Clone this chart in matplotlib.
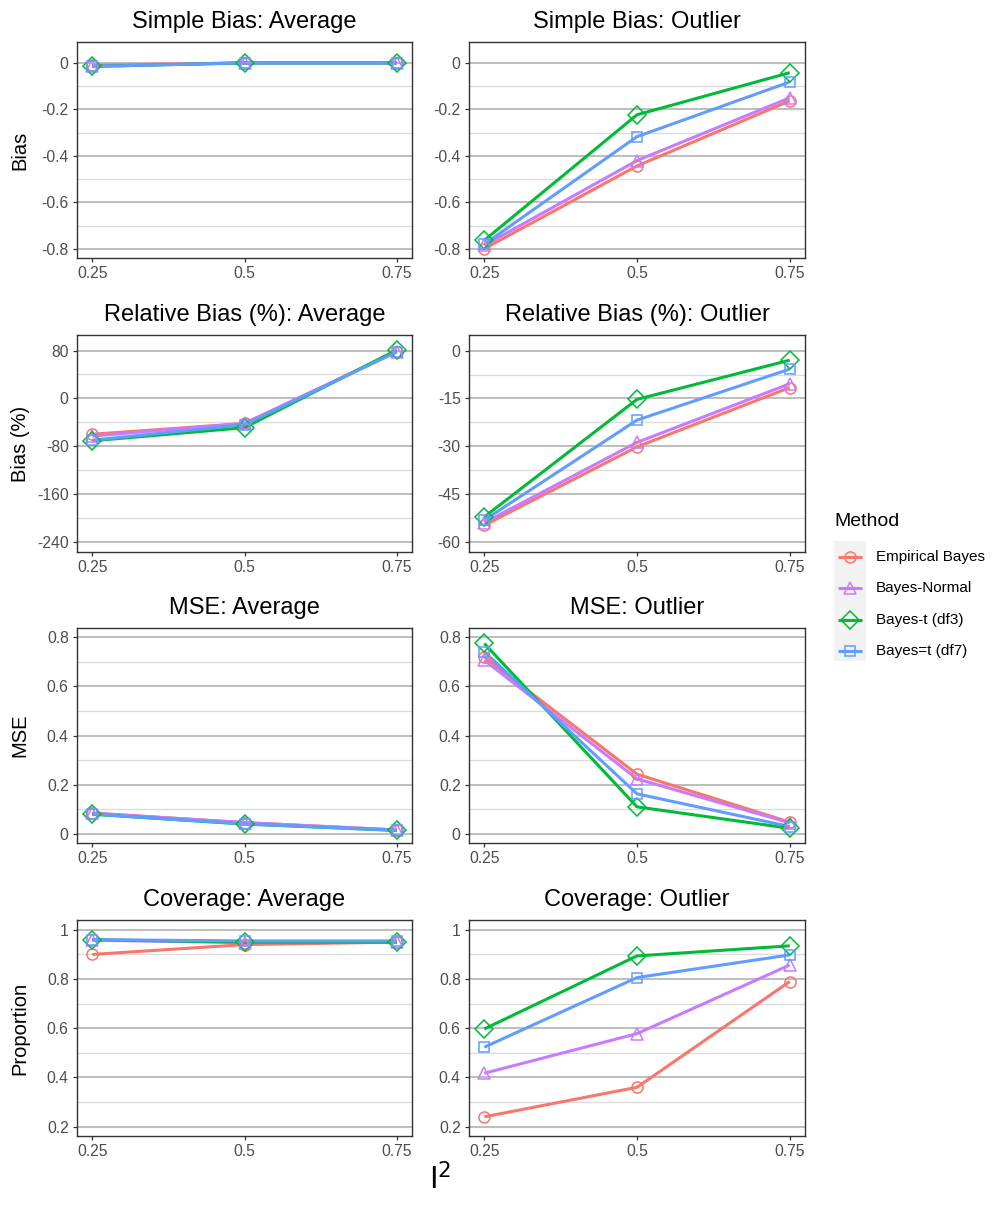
import matplotlib
matplotlib.use("Agg")
import matplotlib.pyplot as plt
from matplotlib.patches import Rectangle
from matplotlib.ticker import FixedLocator, FuncFormatter

plt.rcParams['font.family'] = ['Liberation Sans', 'DejaVu Sans']

# === data ===
i2 = [0.25, 0.5, 0.75]
methods = ["Empirical Bayes", "Bayes-Normal", "Bayes-t (df3)", "Bayes=t (df7)"]
colors = ["#F8766D", "#C77CFF", "#00BA38", "#619CFF"]
markers = ["o", "^", "D", "s"]
msizes = [8, 8.5, 8.8, 7.5]

# one row per method: EB, Normal, t3, t7
simple_bias_avg = [[-0.010, 0.000, 0.000],
                   [-0.012, 0.000, 0.000],
                   [-0.015, 0.000, 0.000],
                   [-0.015, 0.000, 0.000]]
simple_bias_out = [[-0.799, -0.443, -0.163],
                   [-0.785, -0.420, -0.150],
                   [-0.763, -0.223, -0.042],
                   [-0.780, -0.317, -0.082]]
rel_bias_avg = [[-60, -42, 78],
                [-63, -42, 78],
                [-71, -49, 81],
                [-70, -44, 78]]
rel_bias_out = [[-54.8, -30.2, -11.6],
                [-54.0, -28.8, -10.4],
                [-52.2, -15.3, -3.0],
                [-53.2, -21.8, -5.8]]
mse_avg = [[0.085, 0.046, 0.016],
           [0.084, 0.046, 0.016],
           [0.080, 0.040, 0.014],
           [0.081, 0.041, 0.015]]
mse_out = [[0.720, 0.243, 0.048],
           [0.707, 0.224, 0.045],
           [0.775, 0.110, 0.023],
           [0.741, 0.163, 0.030]]
cov_avg = [[0.900, 0.940, 0.950],
           [0.958, 0.948, 0.952],
           [0.960, 0.950, 0.950],
           [0.960, 0.955, 0.955]]
cov_out = [[0.240, 0.360, 0.790],
           [0.417, 0.578, 0.857],
           [0.597, 0.894, 0.935],
           [0.523, 0.806, 0.898]]

row_titles = ["Simple Bias", "Relative Bias (%)", "MSE", "Coverage"]
row_ylabels = ["Bias", "Bias (%)", "MSE", "Proportion"]
panels = [(simple_bias_avg, simple_bias_out), (rel_bias_avg, rel_bias_out),
          (mse_avg, mse_out), (cov_avg, cov_out)]

# y-axis settings per panel: (limits, major ticks)
yaxes = [
    [((-0.839, 0.09), [-0.8, -0.6, -0.4, -0.2, 0]), ((-0.839, 0.09), [-0.8, -0.6, -0.4, -0.2, 0])],
    [((-257, 106), [-240, -160, -80, 0, 80]), ((-63.2, 4.9), [-60, -45, -30, -15, 0])],
    [((-0.037, 0.838), [0, 0.2, 0.4, 0.6, 0.8]), ((-0.037, 0.838), [0, 0.2, 0.4, 0.6, 0.8])],
    [((0.162, 1.04), [0.2, 0.4, 0.6, 0.8, 1]), ((0.162, 1.04), [0.2, 0.4, 0.6, 0.8, 1])],
]

W, H = 992, 1220
fig = plt.figure(figsize=(W / 100, H / 100), dpi=100)

col_x = [(77, 412), (469, 805)]
row_y = [(42, 258), (335, 552), (628, 843), (920, 1136)]

fmt = FuncFormatter(lambda v, _: f"{v:g}")

for r in range(4):
    top, bot = row_y[r]
    for c in range(2):
        left, right = col_x[c]
        ax = fig.add_axes([left / W, 1 - bot / H, (right - left) / W, (bot - top) / H])
        data = panels[r][c]
        (lo, hi), majors = yaxes[r][c]
        step = majors[1] - majors[0]
        minors = [m + step / 2 for m in majors[:-1]]
        minors += [majors[0] - step / 2, majors[-1] + step / 2]
        minors = [m for m in minors if lo < m < hi]

        for m in minors:
            ax.axhline(m, color="#DCDCDC", lw=1.0, zorder=0)
        for m in majors:
            ax.axhline(m, color="#BDBDBD", lw=1.4, zorder=0)

        # lines first, then points (ggplot layer order)
        for k in range(4):
            ax.plot(i2, data[k], color=colors[k], lw=2.2, zorder=2 + k * 0.1,
                    solid_capstyle="butt")
        for k in range(4):
            ax.plot(i2, data[k], ls="none", marker=markers[k], ms=msizes[k],
                    mfc="none", mec=colors[k], mew=1.1, zorder=3 + k * 0.1)

        ax.set_xlim(0.225, 0.775)
        ax.set_ylim(lo, hi)
        ax.set_xticks(i2)
        ax.xaxis.set_major_formatter(fmt)
        ax.yaxis.set_major_locator(FixedLocator(majors))
        ax.yaxis.set_major_formatter(fmt)
        ax.tick_params(axis="both", labelsize=11.3, labelcolor="#4D4D4D",
                       color="#333333", length=3, width=0.9, pad=3)
        for s in ax.spines.values():
            s.set_color("#333333")
            s.set_linewidth(1.0)
        suffix = "Average" if c == 0 else "Outlier"
        ax.set_title(f"{row_titles[r]}: {suffix}", fontsize=17, pad=10)

    fig.text(20 / W, 1 - (top + bot) / 2 / H, row_ylabels[r], rotation=90,
             ha="center", va="center", fontsize=14.5)

fig.text(440 / W, 1 - 1180 / H, "I$^2$", ha="center", va="center", fontsize=22)

# legend, laid out in pixel coordinates
lg = fig.add_axes([0, 0, 1, 1])
lg.set_xlim(0, W)
lg.set_ylim(H, 0)
lg.axis("off")
lg.text(834, 521, "Method", ha="left", va="center", fontsize=14)
lg.add_patch(Rectangle((834, 541), 32, 120, facecolor="#F2F2F2", edgecolor="none"))
key_y = [557, 588, 620, 651]
for k in range(4):
    lg.plot([838, 862], [key_y[k], key_y[k]], color=colors[k], lw=2.2,
            solid_capstyle="butt")
    lg.plot([850], [key_y[k]], ls="none", marker=markers[k], ms=msizes[k],
            mfc="none", mec=colors[k], mew=1.1)
    lg.text(876, key_y[k], methods[k], ha="left", va="center", fontsize=11)

fig.savefig("out.png", dpi=100)
